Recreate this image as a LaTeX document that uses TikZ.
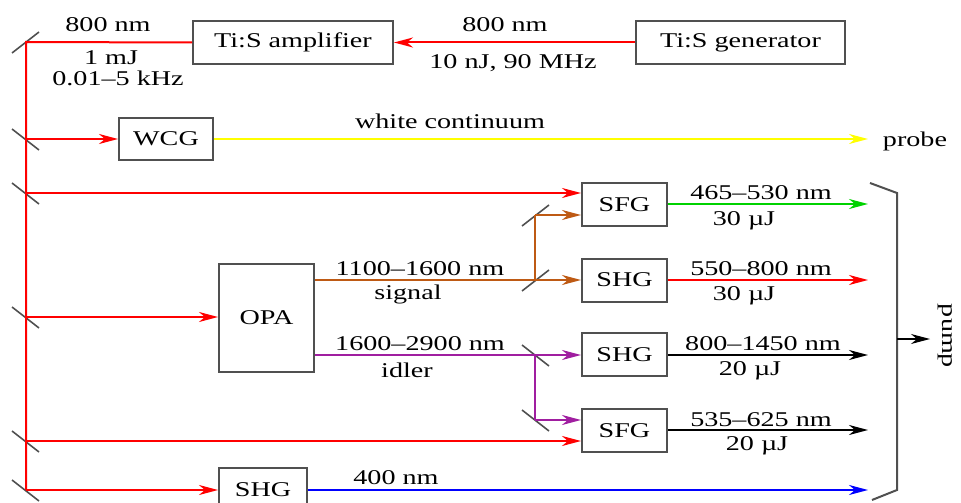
\documentclass[tikz,border=0pt]{standalone}
\usepackage{fontspec}
\setmainfont{Liberation Serif}[FakeStretch=1.34]
\usetikzlibrary{arrows.meta,calc}
\definecolor{cred}{RGB}{255,0,0}
\definecolor{cbrown}{RGB}{190,90,20}
\definecolor{cpurple}{RGB}{160,30,160}
\definecolor{cgreen}{RGB}{0,210,0}
\definecolor{cyellow}{RGB}{255,255,0}
\definecolor{cblue}{RGB}{0,0,255}
\definecolor{cgray}{RGB}{80,80,80}
\begin{document}
\begin{tikzpicture}[x=1pt,y=-1pt,
  box/.style={draw=cgray, line width=2pt, minimum height=43pt, inner sep=0pt, font=\fontsize{21}{24}\selectfont},
  lbl/.style={anchor=base, inner sep=0pt, font=\fontsize{21}{24}\selectfont},
  beam/.style={line width=2pt},
  arr/.style={beam, -{Stealth[length=19pt,width=10pt,inset=6pt]}},
  mirror/.style={draw=cgray, line width=1.6pt}]
\useasboundingbox (0,0) rectangle (961,503);

% boxes
\node[box, minimum width=200pt] (amp) at (293,42.5) {Ti:S amplifier};
\node[box, minimum width=209pt] (gen) at (740.5,42.5) {Ti:S generator};
\node[box, minimum width=94pt, minimum height=42pt] (wcg) at (166,139) {WCG};
\node[box, minimum width=95pt, minimum height=108pt] (opa) at (266.5,318) {OPA};
\node[box, minimum width=85pt] (sfga) at (624.5,204.5) {SFG};
\node[box, minimum width=85pt] (shga) at (624.5,280) {SHG};
\node[box, minimum width=85pt] (shgb) at (624.5,354.5) {SHG};
\node[box, minimum width=85pt] (sfgb) at (624.5,430.5) {SFG};
\node[box, minimum width=88pt, minimum height=44pt] (shgc) at (263,490) {SHG};

% mirror positions
\coordinate (m0) at (26,42);
\coordinate (m1) at (26,139);
\coordinate (m2) at (26,193);
\coordinate (m3) at (26,317);
\coordinate (m4) at (26,441);
\coordinate (m5) at (26,490);
\coordinate (b1) at (535,215);
\coordinate (b2) at (535,280);
\coordinate (p1) at (535,355);
\coordinate (p2) at (535,420);

% end points
\coordinate (ey) at (868,139);
\coordinate (e1) at (868,204);
\coordinate (e2) at (868,280);
\coordinate (e3) at (868,355);
\coordinate (e4) at (868,430);
\coordinate (e5) at (868,490);

% mirrors
\draw[mirror] ($(m0)+(-14,11)$) -- ($(m0)+(13,-10)$);
\foreach \m in {m1,m2,m3,m4,m5}
  \draw[mirror] ($(\m)+(-14,-10)$) -- ($(\m)+(13,11)$);
\draw[mirror] ($(b1)+(-13,11)$) -- ($(b1)+(14,-10)$);
\draw[mirror] ($(b2)+(-13,11)$) -- ($(b2)+(14,-10)$);
\draw[mirror] ($(p1)+(-13,-10)$) -- ($(p1)+(14,11)$);
\draw[mirror] ($(p2)+(-13,-10)$) -- ($(p2)+(14,11)$);

% pump beams (red)
\draw[arr, cred] (gen.west) -- (amp.east);
\draw[beam, cred] (amp.west) -- (m0) -- (m5);
\draw[arr, cred] (m1) -- (wcg.west);
\draw[arr, cred] (m2) -- (m2 -| sfga.west);
\draw[arr, cred] (m3) -- (m3 -| opa.west);
\draw[arr, cred] (m4) -- (m4 -| sfgb.west);
\draw[arr, cred] (m5) -- (m5 -| shgc.west);

% white continuum
\draw[arr, cyellow] (wcg.east) -- (ey);

% signal (brown)
\draw[beam, cbrown] (b2 -| opa.east) -- (b2) -- (b1);
\draw[arr, cbrown] (b1) -- (b1 -| sfga.west);
\draw[arr, cbrown] (b2) -- (b2 -| shga.west);

% idler (purple)
\draw[beam, cpurple] (p1 -| opa.east) -- (p1) -- (p2);
\draw[arr, cpurple] (p1) -- (p1 -| shgb.west);
\draw[arr, cpurple] (p2) -- (p2 -| sfgb.west);

% outputs
\draw[arr, cgreen] (sfga.east |- e1) -- (e1);
\draw[arr, cred] (shga.east |- e2) -- (e2);
\draw[arr, black] (shgb.east |- e3) -- (e3);
\draw[arr, black] (sfgb.east |- e4) -- (e4);
\draw[arr, cblue] (shgc.east |- e5) -- (e5);

% bracket and pump arrow
\coordinate (k1) at (870,183);
\coordinate (k2) at (897,193);
\coordinate (k3) at (897,490);
\coordinate (k4) at (872,500);
\coordinate (kp) at (897,339);
\coordinate (kq) at (930,339);
\draw[cgray, line width=2pt] (k1) -- (k2) -- (k3) -- (k4);
\draw[black, line width=1.2pt, -{Stealth[length=19pt,width=10pt,inset=6pt]}] (kp) -- (kq);
\node[lbl, anchor=center, rotate=-90] (pump) at (945,336) {pump};

% labels
\node[lbl] (l1) at (108,32) {800 nm};
\node[lbl] (l2) at (111,64) {1 mJ};
\node[lbl] (l3) at (118,85) {0.01–5 kHz};
\node[lbl] (l4) at (505,32) {800 nm};
\node[lbl] (l5) at (513,69) {10 nJ, 90 MHz};
\node[lbl] (l6) at (450,128) {white continuum};
\node[lbl] (l7) at (915,146) {probe};
\node[lbl] (l8) at (420,275) {1100–1600 nm};
\node[lbl] (l9) at (408,299) {signal};
\node[lbl] (l10) at (420,350) {1600–2900 nm};
\node[lbl] (l11) at (407,377) {idler};
\node[lbl] (l12) at (761,199) {465–530 nm};
\node[lbl] (l13) at (744,225) {30 µJ};
\node[lbl] (l14) at (761,275) {550–800 nm};
\node[lbl] (l15) at (744,300) {30 µJ};
\node[lbl] (l16) at (763,350) {800–1450 nm};
\node[lbl] (l17) at (750,375) {20 µJ};
\node[lbl] (l18) at (761,426) {535–625 nm};
\node[lbl] (l19) at (757,450) {20 µJ};
\node[lbl] (l20) at (396,484) {400 nm};
\end{tikzpicture}
\end{document}
